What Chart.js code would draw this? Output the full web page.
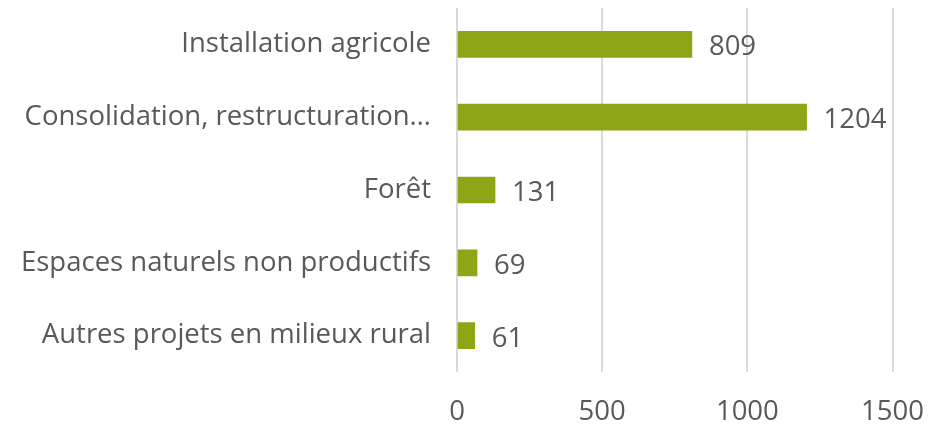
<!DOCTYPE html>
<html>
<head>
<meta charset="utf-8">
<script src="https://cdn.jsdelivr.net/npm/chart.js@4.4.0/dist/chart.umd.min.js"></script>
<style>
  html, body { margin: 0; padding: 0; background: #fff; }
  #wrap { width: 948px; height: 425px; }
</style>
</head>
<body>
<div id="wrap"><canvas id="barChart"></canvas></div>
<script>
var categories = [
  'Installation agricole',
  'Consolidation, restructuration…',
  'Forêt',
  'Espaces naturels non productifs',
  'Autres projets en milieux rural'
];
var values = [809, 1204, 131, 69, 61];
var xTicks = [0, 500, 1000, 1500];

var textColor = '#595959';
var barColor = '#8EA615';
var fontFamily = 'Open Sans';
var fontSize = 27.5;

// value labels drawn next to each bar end
var valueLabels = {
  id: 'valueLabels',
  afterDatasetsDraw: function (chart) {
    var ctx = chart.ctx;
    var meta = chart.getDatasetMeta(0);
    ctx.save();
    ctx.fillStyle = textColor;
    ctx.font = fontSize + 'px "' + fontFamily + '"';
    ctx.textAlign = 'left';
    ctx.textBaseline = 'alphabetic';
    meta.data.forEach(function (bar, i) {
      ctx.fillText(String(values[i]), bar.x + 17, bar.y + 11);
    });
    ctx.restore();
  }
};

var ctx = document.getElementById('barChart').getContext('2d');
var barChart = new Chart(ctx, {
  type: 'bar',
  data: {
    labels: categories,
    datasets: [
      {
        data: values,
        backgroundColor: barColor,
        borderWidth: 0,
        barThickness: 26
      }
    ]
  },
  options: {
    indexAxis: 'y',
    responsive: true,
    maintainAspectRatio: false,
    animation: false,
    layout: { padding: { top: 8, right: 53, bottom: 0, left: 0 } },
    plugins: {
      legend: { display: false },
      tooltip: { enabled: false }
    },
    scales: {
      x: {
        min: 0,
        max: 1500,
        afterBuildTicks: function (scale) {
          scale.ticks = xTicks.map(function (v) { return { value: v }; });
        },
        afterFit: function (scale) { scale.height = 53; },
        grid: { color: '#d9d9d9', lineWidth: 2, drawTicks: false },
        border: { display: false },
        ticks: {
          color: textColor,
          font: { family: fontFamily, size: fontSize },
          padding: 24,
          callback: function (v) { return String(v); }
        }
      },
      y: {
        afterFit: function (scale) {
          scale.width = 457;
          scale.paddingTop = 0;
          scale.paddingBottom = 0;
        },
        grid: { display: false },
        border: { display: false },
        ticks: { color: textColor, font: { family: fontFamily, size: fontSize }, padding: 18 }
      }
    }
  },
  plugins: [valueLabels]
});
</script>
</body>
</html>
